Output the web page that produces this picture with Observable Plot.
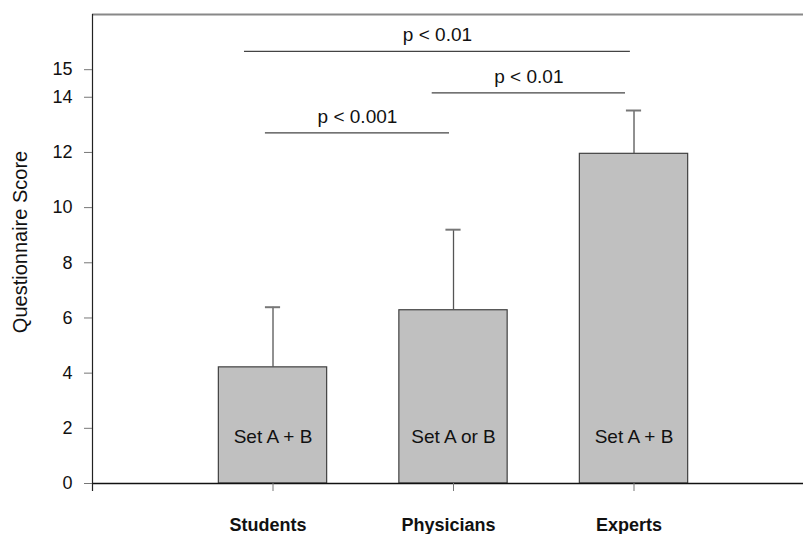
<!DOCTYPE html>
<html>
<head>
<meta charset="utf-8">
<script src="https://cdn.jsdelivr.net/npm/d3@7"></script>
<script src="https://cdn.jsdelivr.net/npm/@observablehq/plot@0.6"></script>
<style>
  html, body { margin: 0; padding: 0; background: #fff; }
  #chart svg { display: block; font-family: "Liberation Sans", Arial, sans-serif; }
</style>
</head>
<body>
<div id="chart"></div>
<script>
const groups = ["Students", "Physicians", "Experts"];
const positions = [1, 2, 3];
const means = [4.21, 6.28, 11.95];
const sds = [2.18, 2.92, 1.57];
const setLabels = ["Set A + B", "Set A or B", "Set A + B"];
const yTicks = [0, 2, 4, 6, 8, 10, 12, 14, 15];
const pLabels = ["p < 0.001", "p < 0.01", "p < 0.01"];
const pFrom = [0.958, 1.882, 0.842];
const pTo = [1.978, 2.953, 2.98];
const pY = [12.71, 14.16, 15.66];
const yLabel = "Questionnaire Score";

const bars = groups.map((g, i) => ({group: g, pos: positions[i], mean: means[i], sd: sds[i], set: setLabels[i]}));
const brackets = pLabels.map((p, i) => ({label: p, x1: pFrom[i], x2: pTo[i], y: pY[i]}));
const halfBar = 0.3, halfCap = 0.042;

const chart = Plot.plot({
  width: 803,
  height: 534,
  marginLeft: 92,
  marginRight: 0,
  marginTop: 14,
  marginBottom: 51,
  style: {fontFamily: "Liberation Sans, Arial, sans-serif", background: "#fff"},
  x: {domain: [0, 3.939]},
  y: {domain: [0, 17]},
  marks: [
    Plot.ruleY([17], {stroke: "#888", strokeWidth: 2}),
    Plot.rectY(bars, {x1: d => d.pos - halfBar, x2: d => d.pos + halfBar, y1: 0, y2: "mean", fill: "#c0c0c0", stroke: "#404040", strokeWidth: 1.2}),
    Plot.ruleX(bars, {x: "pos", y1: "mean", y2: d => d.mean + d.sd, stroke: "#555", strokeWidth: 1.3}),
    Plot.ruleY(bars, {y: d => d.mean + d.sd, x1: d => d.pos - halfCap, x2: d => d.pos + halfCap, stroke: "#777", strokeWidth: 2}),
    Plot.text(bars, {x: "pos", text: "set", frameAnchor: "bottom", dy: -41, lineAnchor: "bottom", fontSize: 19, fill: "#111"}),
    Plot.ruleY(brackets, {y: "y", x1: "x1", x2: "x2", stroke: "#444", strokeWidth: 1.2}),
    Plot.text(brackets, {x: d => (d.x1 + d.x2) / 2, y: "y", text: "label", dy: -10, lineAnchor: "bottom", fontSize: 19, fill: "#111"}),
    Plot.ruleY([0], {stroke: "#111", strokeWidth: 1.6}),
    Plot.ruleX([0], {stroke: "#222", strokeWidth: 1.2, insetBottom: -8}),
    Plot.axisY({ticks: yTicks, tickSize: 8, tickPadding: 12, fontSize: 18, label: null, stroke: "#777", fill: "#111", tickFormat: d => String(d)}),
    Plot.axisX({ticks: positions, tickSize: 8, label: null, stroke: "#777", tickFormat: () => ""}),
    Plot.axisX({ticks: positions, tickSize: 0, tickPadding: 35, fontSize: 18, fontWeight: "bold", label: null, fill: "#111", tickFormat: d => groups[d - 1], dx: -5, letterSpacing: 1}),
    Plot.text([yLabel], {text: d => d, frameAnchor: "left", rotate: -90, dx: -72, dy: -7, fontSize: 20, fill: "#111", lineAnchor: "middle", textAnchor: "middle"})
  ]
});
document.getElementById("chart").appendChild(chart);
</script>
</body>
</html>
